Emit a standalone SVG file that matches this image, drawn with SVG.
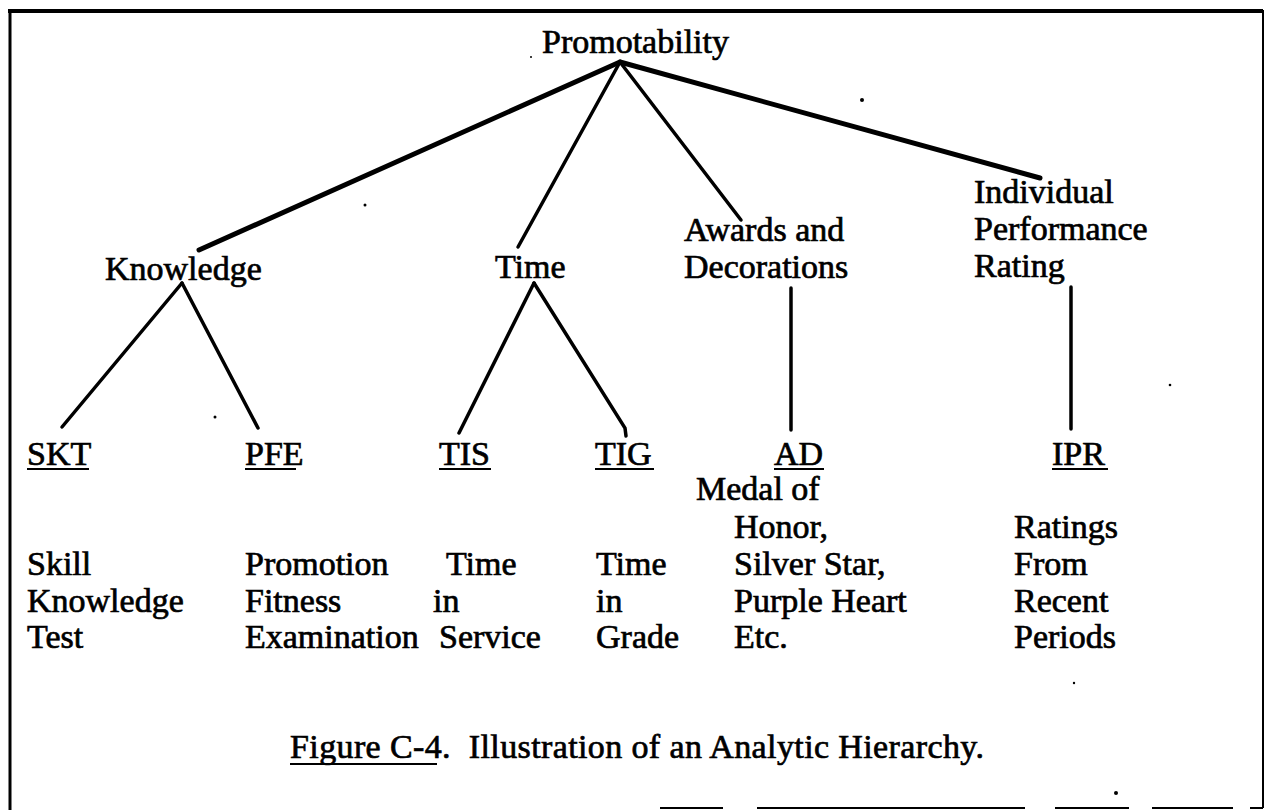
<svg xmlns="http://www.w3.org/2000/svg" width="1266" height="810" viewBox="0 0 1266 810">
  <style>
    .t { font-family: "Liberation Serif", "Times New Roman", serif; font-size: 34px; fill: #000; stroke: #000; stroke-width: 0.7px; }
    .thick { stroke: #000; stroke-width: 5; stroke-linecap: round; fill: none; }
    .thin { stroke: #000; stroke-width: 3.5; stroke-linecap: round; fill: none; }
    .ul { stroke: #000; stroke-width: 2.2; }
    .speck { fill: #000; }
  </style>
  <rect x="0" y="0" width="1266" height="810" fill="#fff"/>

  <g id="frame" fill="none" stroke="#000">
    <line x1="8" y1="11" x2="1263" y2="11" stroke-width="4"/>
    <line x1="10" y1="10" x2="10" y2="810" stroke-width="3"/>
    <line x1="1263" y1="10" x2="1263" y2="808" stroke-width="2"/>
    <path d="M660 808H723M757 808H1025M1055 808H1129M1152 808H1233M1250 808H1263" stroke-width="2"/>
  </g>

  <g id="connectors">
    <line class="thick" x1="620" y1="62" x2="199" y2="250"/>
    <line class="thin" x1="620" y1="62" x2="518" y2="247"/>
    <line class="thin" x1="620" y1="62" x2="741" y2="220"/>
    <line class="thick" x1="620" y1="62" x2="1040" y2="178"/>
    <line class="thin" x1="182" y1="283" x2="62" y2="427"/>
    <line class="thin" x1="182" y1="283" x2="258" y2="428"/>
    <line class="thin" x1="534" y1="283" x2="459" y2="433"/>
    <polyline class="thin" points="534,283 625,428 626,436"/>
    <line class="thin" x1="791" y1="288" x2="791" y2="430"/>
    <line class="thin" x1="1071" y1="287" x2="1071" y2="429"/>
  </g>

  <g id="node-promotability"><text class="t" x="542" y="53">Promotability</text></g>
  <g id="node-knowledge"><text class="t" x="105" y="280">Knowledge</text></g>
  <g id="node-time"><text class="t" x="495" y="278">Time</text></g>
  <g id="node-awards">
    <text class="t" x="684" y="241">Awards and</text>
    <text class="t" x="684" y="278">Decorations</text>
  </g>
  <g id="node-ipr-criterion">
    <text class="t" x="974" y="203">Individual</text>
    <text class="t" x="974" y="240">Performance</text>
    <text class="t" x="974" y="277">Rating</text>
  </g>

  <g id="node-skt">
    <text class="t" x="27" y="465">SKT</text>
    <line class="ul" x1="27" y1="469" x2="89" y2="469"/>
    <text class="t" x="27" y="575">Skill</text>
    <text class="t" x="27" y="611.5">Knowledge</text>
    <text class="t" x="27" y="648">Test</text>
  </g>
  <g id="node-pfe">
    <text class="t" x="245" y="465">PFE</text>
    <line class="ul" x1="245" y1="469" x2="296" y2="469"/>
    <text class="t" x="245" y="575">Promotion</text>
    <text class="t" x="245" y="611.5">Fitness</text>
    <text class="t" x="245" y="648">Examination</text>
  </g>
  <g id="node-tis">
    <text class="t" x="439" y="465">TIS</text>
    <line class="ul" x1="439" y1="469" x2="491" y2="469"/>
    <text class="t" x="446" y="575">Time</text>
    <text class="t" x="433" y="611.5">in</text>
    <text class="t" x="439" y="648">Service</text>
  </g>
  <g id="node-tig">
    <text class="t" x="595" y="465">TIG</text>
    <line class="ul" x1="595" y1="469" x2="654" y2="469"/>
    <text class="t" x="596" y="575">Time</text>
    <text class="t" x="596" y="611.5">in</text>
    <text class="t" x="596" y="648">Grade</text>
  </g>
  <g id="node-ad">
    <text class="t" x="774" y="465">AD</text>
    <line class="ul" x1="774" y1="469" x2="824" y2="469"/>
    <text class="t" x="696" y="500">Medal of</text>
    <text class="t" x="734" y="538">Honor,</text>
    <text class="t" x="734" y="575">Silver Star,</text>
    <text class="t" x="734" y="611.5">Purple Heart</text>
    <text class="t" x="734" y="648">Etc.</text>
  </g>
  <g id="node-ipr">
    <text class="t" x="1052" y="465">IPR</text>
    <line class="ul" x1="1052" y1="469" x2="1108" y2="469"/>
    <text class="t" x="1014" y="538">Ratings</text>
    <text class="t" x="1014" y="575">From</text>
    <text class="t" x="1014" y="611.5">Recent</text>
    <text class="t" x="1014" y="648">Periods</text>
  </g>

  <g id="caption">
    <text class="t" x="290" y="758" textLength="694" lengthAdjust="spacing">Figure C-4.&#160; Illustration of an Analytic Hierarchy.</text>
    <line class="ul" x1="290" y1="764" x2="437" y2="764"/>
  </g>

  <g id="specks">
    <circle class="speck" cx="862" cy="100" r="2"/>
    <circle class="speck" cx="365" cy="205" r="1.5"/>
    <circle class="speck" cx="215" cy="417" r="1.5"/>
    <circle class="speck" cx="1170" cy="385" r="1.3"/>
    <circle class="speck" cx="1074" cy="683" r="1.2"/>
    <circle class="speck" cx="1116" cy="793" r="2"/>
    <circle class="speck" cx="531" cy="57" r="1"/>
  </g>
</svg>
